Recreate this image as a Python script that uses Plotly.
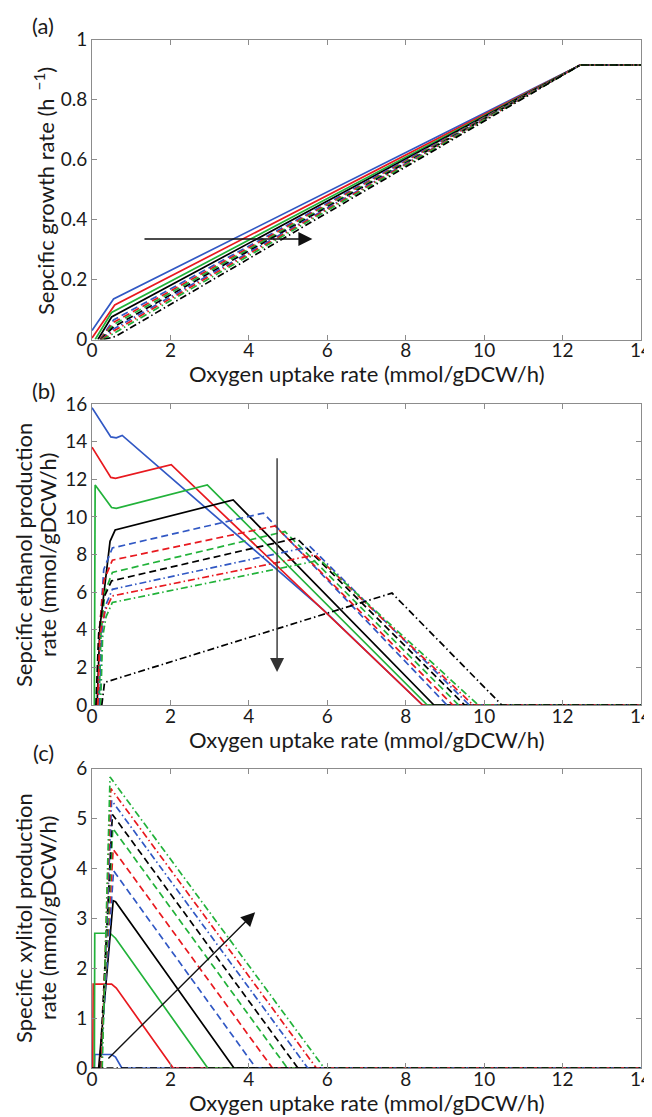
import plotly.graph_objects as go

# ---------------- data ----------------
x_ticks = [0, 2, 4, 6, 8, 10, 12, 14]

# (a) specific growth rate
mu_sb_x = [0, 0.55, 12.45, 14];  mu_sb_y = [0.03, 0.135, 0.915, 0.915]
mu_sr_x = [0, 0.58, 12.45, 14];  mu_sr_y = [0.005, 0.115, 0.915, 0.915]
mu_sg_x = [0.08, 0.5, 12.45, 14]; mu_sg_y = [0, 0.09, 0.915, 0.915]
mu_sk_x = [0.15, 0.5, 12.45, 14]; mu_sk_y = [0, 0.075, 0.915, 0.915]
mu_db_x = [0.2, 0.55, 12.45, 14]; mu_db_y = [0, 0.065, 0.915, 0.915]
mu_dr_x = [0.2, 0.55, 12.45, 14]; mu_dr_y = [0, 0.057, 0.915, 0.915]
mu_dg_x = [0.22, 0.55, 12.45, 14]; mu_dg_y = [0, 0.05, 0.915, 0.915]
mu_dk_x = [0.22, 0.55, 12.45, 14]; mu_dk_y = [0, 0.042, 0.915, 0.915]
mu_cb_x = [0.25, 0.55, 12.45, 14]; mu_cb_y = [0, 0.035, 0.915, 0.915]
mu_cr_x = [0.25, 0.55, 12.45, 14]; mu_cr_y = [0, 0.028, 0.915, 0.915]
mu_cg_x = [0.27, 0.55, 12.45, 14]; mu_cg_y = [0, 0.02, 0.915, 0.915]
mu_ck_x = [0.3, 0.6, 12.45, 14];  mu_ck_y = [0, 0.01, 0.915, 0.915]

# (b) specific ethanol production rate
et_sb_x = [0, 0.48, 0.62, 0.77, 5.9, 8.43, 14]; et_sb_y = [15.8, 14.25, 14.2, 14.33, 5.06, 0, 0]
et_sr_x = [0, 0.48, 0.6, 2.02, 8.43, 14];       et_sr_y = [13.7, 12.1, 12.05, 12.77, 0, 0]
et_sg_x = [0.06, 0.08, 0.5, 0.62, 2.94, 8.55, 14]; et_sg_y = [0, 11.7, 10.5, 10.45, 11.7, 0, 0]
et_sk_x = [0.13, 0.2, 0.46, 0.59, 3.6, 8.72, 14]; et_sk_y = [0, 4.1, 8.7, 9.3, 10.9, 0, 0]
et_db_x = [0.15, 0.2, 0.3, 0.52, 4.37, 9.05, 14]; et_db_y = [0, 4.0, 7.2, 8.35, 10.2, 0, 0]
et_dr_x = [0.12, 0.18, 0.3, 0.52, 4.67, 9.2, 14]; et_dr_y = [0, 3.8, 6.6, 7.7, 9.52, 0, 0]
et_dg_x = [0.18, 0.23, 0.33, 0.52, 4.92, 9.35, 14]; et_dg_y = [0, 3.8, 6.0, 7.05, 9.22, 0, 0]
et_dk_x = [0.1, 0.17, 0.3, 0.5, 5.22, 9.5, 14]; et_dk_y = [0, 3.8, 5.7, 6.6, 8.87, 0, 0]
et_cb_x = [0.2, 0.25, 0.35, 0.52, 5.56, 9.62, 14]; et_cb_y = [0, 3.8, 5.3, 6.15, 8.42, 0, 0]
et_cr_x = [0.15, 0.2, 0.33, 0.52, 5.69, 9.72, 14]; et_cr_y = [0, 3.7, 5.0, 5.8, 7.98, 0, 0]
et_cg_x = [0.22, 0.27, 0.36, 0.52, 5.82, 9.85, 14]; et_cg_y = [0, 3.6, 4.7, 5.45, 7.7, 0, 0]
et_ck_x = [0.25, 0.32, 7.65, 10.45, 14]; et_ck_y = [0, 1.2, 5.95, 0, 0]

# (c) specific xylitol production rate
xy_sb_x = [0.06, 0.07, 0.5, 0.6, 0.76, 14]; xy_sb_y = [0, 0.27, 0.27, 0.22, 0, 0]
xy_sr_x = [0.02, 0.03, 0.5, 0.62, 2.07, 14]; xy_sr_y = [0, 1.68, 1.68, 1.6, 0, 0]
xy_sg_x = [0.06, 0.07, 0.46, 0.6, 2.95, 14]; xy_sg_y = [0, 2.7, 2.7, 2.6, 0, 0]
xy_sk_x = [0.17, 0.54, 0.6, 3.62, 14]; xy_sk_y = [0, 3.35, 3.33, 0, 0]
xy_db_x = [0.2, 0.55, 4.18, 14]; xy_db_y = [0, 3.95, 0, 0]
xy_dr_x = [0.2, 0.54, 4.6, 14];  xy_dr_y = [0, 4.38, 0, 0]
xy_dg_x = [0.22, 0.53, 4.98, 14]; xy_dg_y = [0, 4.8, 0, 0]
xy_dk_x = [0.2, 0.52, 5.25, 14]; xy_dk_y = [0, 5.08, 0, 0]
xy_cb_x = [0.24, 0.5, 5.5, 14]; xy_cb_y = [0, 5.36, 0, 0]
xy_cr_x = [0.24, 0.48, 5.72, 14]; xy_cr_y = [0, 5.6, 0, 0]
xy_cg_x = [0.26, 0.46, 5.92, 14]; xy_cg_y = [0, 5.83, 0, 0]
xy_ck_x = [0, 14]; xy_ck_y = [0, 0]

# ---------------- styles ----------------
BLUE, RED, GREEN, BLACK = "#3158c4", "#e8191f", "#22b23a", "#000000"
DASH = "7px,4px"
DASHDOT = "7px,3px,1.5px,3px"
STYLE = {
    "sb": (BLUE, "solid"), "sr": (RED, "solid"), "sg": (GREEN, "solid"), "sk": (BLACK, "solid"),
    "db": (BLUE, DASH), "dr": (RED, DASH), "dg": (GREEN, DASH), "dk": (BLACK, DASH),
    "cb": (BLUE, DASHDOT), "cr": (RED, DASHDOT), "cg": (GREEN, DASHDOT), "ck": (BLACK, DASHDOT),
}
ORDER = ["sb", "sr", "sg", "sk", "db", "dr", "dg", "dk", "cb", "cr", "cg", "ck"]

panels = [
    ("x", "y", "mu"),
    ("x2", "y2", "et"),
    ("x3", "y3", "xy"),
]

fig = go.Figure()
g = globals()
for xa, ya, pre in panels:
    for key in ORDER:
        col, dash = STYLE[key]
        fig.add_trace(go.Scatter(
            x=g[f"{pre}_{key}_x"], y=g[f"{pre}_{key}_y"], mode="lines",
            line=dict(color=col, width=1.7, dash=dash),
            xaxis=xa, yaxis=ya, showlegend=False, hoverinfo="skip"))

FONT = "Lato, 'Open Sans', sans-serif"
axis_common = dict(showline=True, linecolor="#8c8c8c", linewidth=1, mirror="ticks",
                   ticks="inside", ticklen=5, tickcolor="#8c8c8c", showgrid=False,
                   zeroline=False, ticklabeloverflow="allow",
                   tickfont=dict(size=19, color="#1a1a1a", family=FONT))

# the page body adds an 8px offset; the figure is sized so that the
# visible window (652x1117) matches the reference layout
OFF = 8
W, H = 652 - OFF, 1117 - OFF
L = 92 - OFF
R = W - (641 - OFF)

def py(p):
    return 1 - (p - OFF) / H

def px_x(p):
    return (p - 92) / 549.0

xcommon = dict(range=[0, 14], tickvals=x_ticks, domain=[0, 1], ticklabelstandoff=-6, **axis_common)

fig.update_layout(
    width=W, height=H,
    margin=dict(l=L, r=R, t=0, b=0, autoexpand=False),
    plot_bgcolor="white", paper_bgcolor="white",
    font=dict(family=FONT, size=19, color="#1a1a1a"),
    showlegend=False,
    xaxis=dict(anchor="y", **xcommon),
    yaxis=dict(range=[0, 1], tickvals=[0, 0.2, 0.4, 0.6, 0.8, 1], ticktext=["0", "0.2", "0.4", "0.6", "0.8", "1"],
               domain=[py(339.5), py(39.5)], anchor="x", **axis_common),
    xaxis2=dict(anchor="y2", **xcommon),
    yaxis2=dict(range=[0, 16], tickvals=[0, 2, 4, 6, 8, 10, 12, 14, 16],
                domain=[py(705), py(404)], anchor="x2", **axis_common),
    xaxis3=dict(anchor="y3", **xcommon),
    yaxis3=dict(range=[0, 6], tickvals=[0, 1, 2, 3, 4, 5, 6],
                domain=[py(1068), py(768.5)], anchor="x3", **axis_common),
)

ann = []
TF = dict(family=FONT, size=22, color="#1a1a1a")
for lab, ypx in [("(a)", 26), ("(b)", 390), ("(c)", 752)]:
    ann.append(dict(text=lab, x=px_x(43), y=py(ypx), xref="paper", yref="paper",
                    showarrow=False, xanchor="center", yanchor="middle", font=TF))
for ypx in [373.5, 739, 1102]:
    ann.append(dict(text="Oxygen uptake rate (mmol/gDCW/h)", x=0.5, y=py(ypx), xref="paper", yref="paper",
                    showarrow=False, xanchor="center", yanchor="middle", font=TF))
ann.append(dict(text="Sepcific growth rate (h<sup>  −1</sup>)", x=px_x(44), y=py(191), xref="paper", yref="paper",
                textangle=-90, showarrow=False, xanchor="center", yanchor="middle", font=TF))
for txt, xpx, ypx in [("Sepcific ethanol production", 23, 555), ("rate (mmol/gDCW/h)", 47, 555),
                      ("Specific xylitol production", 23, 918), ("rate (mmol/gDCW/h)", 47, 918)]:
    ann.append(dict(text=txt, x=px_x(xpx), y=py(ypx), xref="paper", yref="paper",
                    textangle=-90, showarrow=False, xanchor="center", yanchor="middle", font=TF))

# arrows
ann.append(dict(x=5.62, y=0.335, ax=1.3, ay=0.335, xref="x", yref="y", axref="x", ayref="y",
                showarrow=True, arrowhead=2, arrowsize=2.0, arrowwidth=1.4, arrowcolor="#111", text=""))
ann.append(dict(x=4.72, y=1.75, ax=4.72, ay=13.2, xref="x2", yref="y2", axref="x2", ayref="y2",
                showarrow=True, arrowhead=2, arrowsize=2.0, arrowwidth=1.4, arrowcolor="#333", text=""))
ann.append(dict(x=4.16, y=3.12, ax=0.38, ay=0.16, xref="x3", yref="y3", axref="x3", ayref="y3",
                showarrow=True, arrowhead=2, arrowsize=2.0, arrowwidth=1.4, arrowcolor="#111", text=""))

fig.update_layout(annotations=ann)
fig.write_html("out.html")
